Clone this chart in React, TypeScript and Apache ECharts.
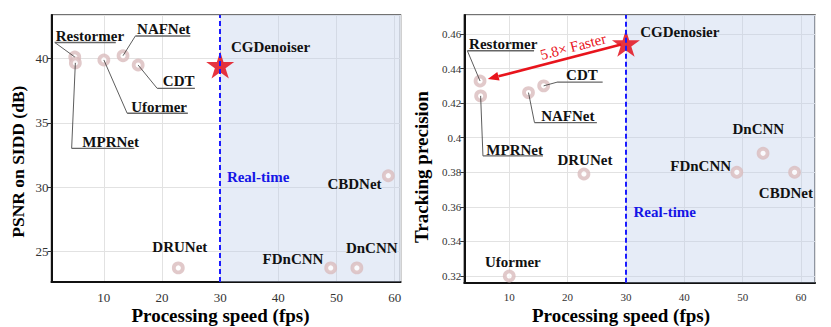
import React, { useEffect, useRef } from "react";
import * as echarts from "echarts";

// ---------------- data ----------------
const methods = ["Restormer", "MPRNet", "Uformer", "NAFNet", "CDT", "DRUNet", "FDnCNN", "DnCNN", "CBDNet"];
const speedFps = [5, 5.1, 10, 13.3, 15.9, 22.8, 49, 53.5, 58.9];
const psnrDb = [40.13, 39.67, 39.9, 40.23, 39.5, 23.7, 23.7, 23.7, 30.88];
const trackPrecision = [0.4328, 0.4242, 0.32, 0.4261, 0.43, 0.379, 0.38, 0.391, 0.38];

const oursNamePsnr = "CGDenoiser";
const oursNameTrack = "CGDenosier";
const oursSpeed = 30;
const oursPsnr = 39.5;
const oursPrecision = 0.4546;
const realTimeFps = 30;
const speedupText = "5.8\u00d7 Faster";

// ---------------- styles ----------------
const SERIF = "'Liberation Serif', 'Times New Roman', serif";
type LabelStyle = { dx: number; dy: number; align: "left" | "center" | "right"; ul?: [number, number, number] };

const psnrLabelStyle: Record<string, LabelStyle> = {
  Restormer: { dx: -19, dy: -21, align: "left", ul: [-20, 41, -14.5] },
  MPRNet: { dx: 7, dy: 79, align: "left", ul: [-3.7, 59, 85.5] },
  Uformer: { dx: 27.3, dy: 47.3, align: "left", ul: [23.3, 84, 53.3] },
  NAFNet: { dx: 14, dy: -26.4, align: "left", ul: [12.3, 67.3, -19.7] },
  CDT: { dx: 24.7, dy: 16, align: "left", ul: [19, 56.7, 23.3] },
  DRUNet: { dx: 1.5, dy: -20.6, align: "center" },
  FDnCNN: { dx: -7.3, dy: -9.3, align: "right" },
  DnCNN: { dx: -11, dy: -20, align: "left" },
  CBDNet: { dx: -6.7, dy: 8, align: "right" },
};
const trackLabelStyle: Record<string, LabelStyle> = {
  Restormer: { dx: -11, dy: -36.7, align: "left", ul: [-12.7, 54, -30.3] },
  MPRNet: { dx: 5.7, dy: 54, align: "left", ul: [2.3, 62.3, 60] },
  NAFNet: { dx: 12.7, dy: 23, align: "left", ul: [6, 68.4, 30] },
  CDT: { dx: 22.4, dy: -11, align: "left", ul: [13.4, 59, -3.7] },
  DRUNet: { dx: 1, dy: -14, align: "center" },
  FDnCNN: { dx: -5.7, dy: -6.3, align: "right" },
  DnCNN: { dx: -30.6, dy: -24, align: "left" },
  CBDNet: { dx: 18.4, dy: 21, align: "right" },
  Uformer: { dx: 3.6, dy: -14.3, align: "center" },
};

const starPath = (() => {
  let d = "";
  for (let i = 0; i < 10; i++) {
    const r = i % 2 === 0 ? 50 : 19.1;
    const a = -Math.PI / 2 + (i * Math.PI) / 5;
    d += (i ? "L" : "M") + (50 + r * Math.cos(a)).toFixed(2) + "," + (50 + r * Math.sin(a)).toFixed(2);
  }
  return "path://" + d + "Z";
})();

type LabelItem = { text: string; x: number; y: number; st: LabelStyle; color?: string };

function labelSeries(gi: number, items: LabelItem[]) {
  return {
    type: "custom",
    xAxisIndex: gi,
    yAxisIndex: gi,
    z: 10,
    silent: true,
    clip: false,
    data: items.map((it) => [it.x, it.y]),
    renderItem: (params: any, api: any) => {
      const it = items[params.dataIndex];
      const p = api.coord([api.value(0), api.value(1)]);
      const children: any[] = [];
      if (it.st.ul) {
        const [u0, u1, uy] = it.st.ul;
        children.push({
          type: "line",
          shape: { x1: p[0], y1: p[1], x2: p[0] + u0, y2: p[1] + uy },
          style: { stroke: "#333", lineWidth: 0.8 },
        });
        children.push({
          type: "line",
          shape: { x1: p[0] + u0, y1: p[1] + uy, x2: p[0] + u1, y2: p[1] + uy },
          style: { stroke: "#666", lineWidth: 1.4 },
        });
      }
      children.push({
        type: "text",
        x: p[0] + it.st.dx,
        y: p[1] + it.st.dy,
        style: {
          text: it.text,
          fill: it.color || "#111",
          fontFamily: SERIF,
          fontWeight: "bold",
          fontSize: 15,
          align: it.st.align,
          verticalAlign: "middle",
        },
      });
      return { type: "group", children };
    },
  };
}

function xAxisCfg(gi: number, min: number, max: number, fs: number) {
  return {
    type: "value",
    gridIndex: gi,
    min,
    max,
    minInterval: 10,
    maxInterval: 10,
    axisLine: { show: true, onZero: false, lineStyle: { color: "#111", width: 2 } },
    axisTick: { show: false },
    axisLabel: { showMinLabel: false, showMaxLabel: false, fontFamily: SERIF, fontSize: fs, color: "#333", margin: 9 },
    splitLine: { show: true, lineStyle: { color: "#e2e2e2", width: 1 } },
  };
}
function yAxisCfg(gi: number, min: number, max: number, step: number, fs: number, fmt: (v: number) => string) {
  return {
    type: "value",
    gridIndex: gi,
    min,
    max,
    minInterval: step,
    maxInterval: step,
    axisLine: { show: true, onZero: false, lineStyle: { color: "#111", width: 2 } },
    axisTick: { show: true, inside: false, length: 4, lineStyle: { color: "#333" } },
    axisLabel: { showMinLabel: false, showMaxLabel: false, fontFamily: SERIF, fontSize: fs, color: "#333", margin: 3, formatter: fmt },
    splitLine: { show: true, lineStyle: { color: "#e2e2e2", width: 1 } },
  };
}

function regionSeries(gi: number, xMax: number) {
  return {
    type: "scatter",
    xAxisIndex: gi,
    yAxisIndex: gi,
    data: [],
    z: 1,
    silent: true,
    markArea: {
      silent: true,
      itemStyle: { color: "rgba(190,205,235,0.39)" },
      data: [[{ xAxis: realTimeFps }, { xAxis: xMax }]],
    },
    markLine: {
      silent: true,
      symbol: "none",
      label: { show: false },
      lineStyle: { color: "#1a1aff", type: [5, 3], width: 2 },
      data: [{ xAxis: realTimeFps }],
    },
  };
}

function ringSeries(gi: number, ys: number[]) {
  return {
    type: "scatter",
    xAxisIndex: gi,
    yAxisIndex: gi,
    z: 3,
    silent: true,
    symbol: "circle",
    symbolSize: 9,
    itemStyle: { color: "#ffffff", borderColor: "#d9bbbd", borderWidth: 3.8 },
    data: speedFps.map((s, i) => [s, ys[i]]),
  };
}
function starSeries(gi: number, y: number) {
  return {
    type: "scatter",
    xAxisIndex: gi,
    yAxisIndex: gi,
    z: 4,
    silent: true,
    symbol: starPath,
    symbolSize: [28, 27],
    itemStyle: { color: "#e3101c", opacity: 0.85 },
    data: [[oursSpeed, y]],
  };
}

function arrowSeries(gi: number) {
  return {
    type: "custom",
    xAxisIndex: gi,
    yAxisIndex: gi,
    z: 9,
    silent: true,
    clip: false,
    data: [[oursSpeed, oursPrecision, speedFps[0], trackPrecision[0]]],
    renderItem: (_p: any, api: any) => {
      const p1 = api.coord([api.value(0), api.value(1)]);
      const p2 = api.coord([api.value(2), api.value(3)]);
      const vx = p2[0] - p1[0];
      const vy = p2[1] - p1[1];
      const len = Math.hypot(vx, vy);
      const ux = vx / len;
      const uy = vy / len;
      const s = [p1[0] + ux * 5, p1[1] + uy * 5];
      const tip = [p2[0] - ux * 8, p2[1] - uy * 8];
      const hl = 11;
      const hw = 4.5;
      const base = [tip[0] - ux * hl, tip[1] - uy * hl];
      const nx = -uy;
      const ny = ux;
      const nUp = ny < 0 ? [nx, ny] : [-nx, -ny];
      const tc = [p1[0] + ux * 52 + nUp[0] * 10, p1[1] + uy * 52 + nUp[1] * 10];
      const rot = Math.atan2(-(p1[1] - p2[1]), p1[0] - p2[0]);
      return {
        type: "group",
        children: [
          { type: "line", shape: { x1: s[0], y1: s[1], x2: base[0], y2: base[1] }, style: { stroke: "#e8141c", lineWidth: 2.6 } },
          {
            type: "polygon",
            shape: {
              points: [
                [tip[0], tip[1]],
                [base[0] + nx * hw, base[1] + ny * hw],
                [base[0] - nx * hw, base[1] - ny * hw],
              ],
            },
            style: { fill: "#e8141c" },
          },
          {
            type: "text",
            x: tc[0],
            y: tc[1],
            rotation: rot,
            style: { text: speedupText, fill: "#e8141c", fontFamily: SERIF, fontSize: 15, align: "center", verticalAlign: "middle" },
          },
        ],
      };
    },
  };
}

const titleStyle = (text: string, fs: number) => ({
  text,
  fill: "#000",
  fontFamily: SERIF,
  fontWeight: "bold",
  fontSize: fs,
  align: "center",
  verticalAlign: "middle",
});

export default function App() {
  const ref = useRef<HTMLDivElement>(null);
  useEffect(() => {
    document.body.style.margin = "0";
    const chart = echarts.init(ref.current!, null, { renderer: "svg" });
    const L = { xMin: 1, xMax: 61, yMin: 22.6, yMax: 43.4 };
    const R = { xMin: 2.3, xMax: 62.4, yMin: 0.3161, yMax: 0.471 };

    const psnrItems: LabelItem[] = methods.map((m, i) => ({ text: m, x: speedFps[i], y: psnrDb[i], st: psnrLabelStyle[m] }));
    psnrItems.push({ text: oursNamePsnr, x: oursSpeed, y: oursPsnr, st: { dx: 10.7, dy: -18.3, align: "left" } });
    psnrItems.push({ text: "Real-time", x: realTimeFps, y: 30.8, st: { dx: 6.7, dy: 0, align: "left" }, color: "#1515e6" });

    const trackItems: LabelItem[] = methods.map((m, i) => ({ text: m, x: speedFps[i], y: trackPrecision[i], st: trackLabelStyle[m] }));
    trackItems.push({ text: oursNameTrack, x: oursSpeed, y: oursPrecision, st: { dx: 14.3, dy: -11, align: "left" } });
    trackItems.push({ text: "Real-time", x: realTimeFps, y: 0.357, st: { dx: 7.6, dy: 0, align: "left" }, color: "#1515e6" });

    chart.setOption({
      animation: false,
      grid: [
        { left: 51.5, top: 15, width: 349, height: 267, show: true, borderColor: "#444", borderWidth: 1.5, backgroundColor: "transparent" },
        { left: 464.3, top: 15, width: 350.7, height: 267.7, show: true, borderColor: "#444", borderWidth: 1.5, backgroundColor: "transparent" },
      ],
      xAxis: [xAxisCfg(0, L.xMin, L.xMax, 13), xAxisCfg(1, R.xMin, R.xMax, 11)],
      yAxis: [
        yAxisCfg(0, L.yMin, L.yMax, 5, 13, (v: number) => String(Math.round(v))),
        yAxisCfg(1, R.yMin, R.yMax, 0.02, 11, (v: number) => String(parseFloat(v.toFixed(2)))),
      ],
      series: [
        regionSeries(0, L.xMax),
        regionSeries(1, R.xMax),
        ringSeries(0, psnrDb),
        ringSeries(1, trackPrecision),
        starSeries(0, oursPsnr),
        starSeries(1, oursPrecision),
        arrowSeries(1),
        labelSeries(0, psnrItems),
        labelSeries(1, trackItems),
      ],
      graphic: [
        { type: "text", x: 220.5, y: 315, style: titleStyle("Processing speed (fps)", 19) },
        { type: "text", x: 621, y: 315, style: titleStyle("Processing speed (fps)", 19) },
        { type: "text", x: 17.5, y: 161.7, rotation: Math.PI / 2, style: titleStyle("PSNR on SIDD (dB)", 17.5) },
        { type: "text", x: 421, y: 167, rotation: Math.PI / 2, style: titleStyle("Tracking precision", 19) },
      ],
    });
    return () => chart.dispose();
  }, []);
  return <div ref={ref} style={{ width: 831, height: 327 }} />;
}
